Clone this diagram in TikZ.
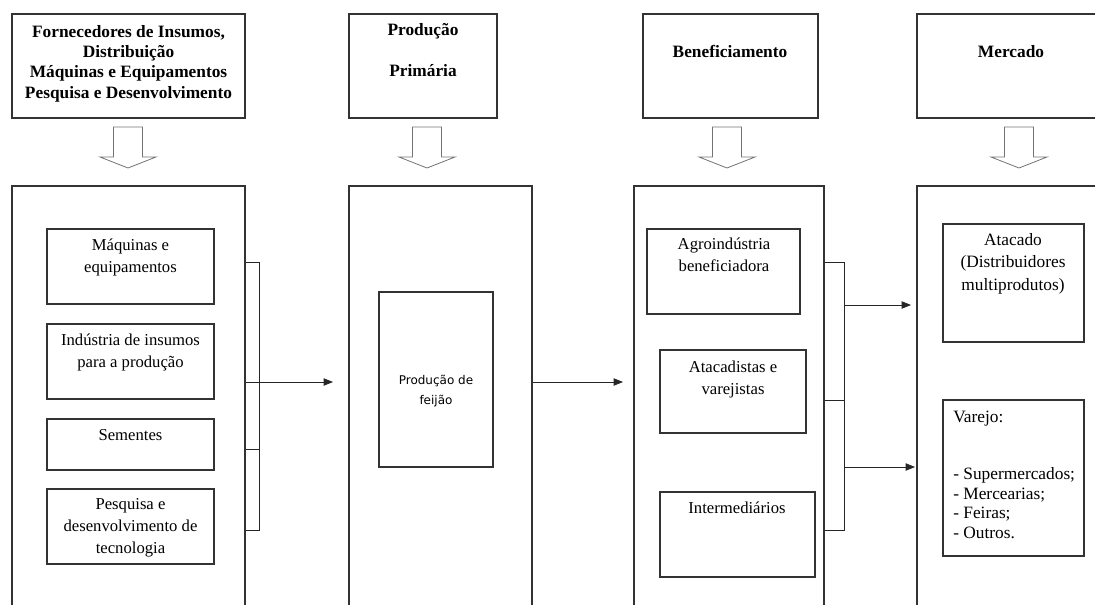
\documentclass[tikz,border=0pt]{standalone}
\usepackage{fontspec}
\setmainfont{Liberation Serif}
\newfontfamily\tahoma{DejaVu Sans}
\usepackage{tikz}
\usetikzlibrary{positioning,arrows.meta,fit}

\begin{document}
\begin{tikzpicture}[
  x=0.75pt, y=-0.75pt,
  box/.style={draw=black!80, line width=0.9pt, inner sep=0pt},
  inbox/.style={draw=black!80, line width=0.8pt, inner sep=0pt},
  headtxt/.style={inner sep=0pt, anchor=base, align=center,
                  font=\fontsize{13}{15.2}\selectfont\bfseries},
  txt/.style={inner sep=0pt, anchor=base, align=center,
              font=\fontsize{12.5}{16.5}\selectfont},
  link/.style={draw=black!85, line width=0.6pt},
  flow/.style={link, -{Triangle[length=7pt,width=5.5pt]}},
  hollow/.style={draw=black!55, line width=0.6pt},
  hollowarrow/.pic={\path[hollow] (-14.5,0) -- (14.5,0) -- (14.5,30) -- (28,30)
                    -- (0,41) -- (-28,30) -- (-14.5,30) -- cycle;},
]
\useasboundingbox (0,0) rectangle (1095,604);
\clip (0,0) rectangle (1095,604);

\node[box, fit={(12,14) (245,118)}] (fornhead) {};
\node[box, fit={(349,14) (497,118)}] (prodhead) {};
\node[box, fit={(643,14) (818,118)}] (benefhead) {};
\node[box, fit={(917,14) (1125,118)}] (mercadohead) {};

\node[headtxt] (fornlbl) at (128.5,98) {Fornecedores de Insumos,\\Distribuição\\
  Máquinas e Equipamentos\\Pesquisa e Desenvolvimento};
\node[headtxt] (prodlbl) at (423,76) {Produção\\[15pt]Primária};
\node[headtxt] (beneflbl) at (730,57) {Beneficiamento};
\node[headtxt] (mercadolbl) at (1011,57) {Mercado};

\pic at (128,127) {hollowarrow};
\pic at (427,127) {hollowarrow};
\pic at (727,127) {hollowarrow};
\pic at (1019,127) {hollowarrow};

\node[box, fit={(12,186) (245,640)}] (fornbig) {};
\node[box, fit={(349,186) (532,640)}] (prodbig) {};
\node[box, fit={(634,186) (824,640)}] (benefbig) {};
\node[box, fit={(917,186) (1125,640)}] (mercadobig) {};

\node[inbox, fit={(47,229) (214,304)}] (maq) {};
\node[inbox, fit={(47,324) (214,399)}] (ind) {};
\node[inbox, fit={(47,419) (214,470)}] (sem) {};
\node[inbox, fit={(47,489) (214,564)}] (pesq) {};
\node[inbox, fit={(379,292) (493,467)}] (feijao) {};
\node[inbox, fit={(647,229) (800,314)}] (agro) {};
\node[inbox, fit={(660,350) (806,433)}] (atac) {};
\node[inbox, fit={(660,492) (815,577)}] (inter) {};
\node[inbox, fit={(943,224) (1084,342)}] (atacado) {};
\node[inbox, fit={(943,400) (1084,556)}] (varejo) {};

\node[txt] (maqlbl) at (130.5,272) {Máquinas e\\equipamentos};
\node[txt] (indlbl) at (130.5,367) {Indústria de insumos\\para a produção};
\node[txt] (semlbl) at (130.5,440) {Sementes};
\node[txt] (pesqlbl) at (130.5,553) {Pesquisa e\\desenvolvimento de\\tecnologia};
\node[txt, font=\tahoma\fontsize{9}{15}\selectfont] (feijaolbl) at (436,404)
  {Produção de\\feijão};
\node[txt] (agrolbl) at (724,271) {Agroindústria\\beneficiadora};
\node[txt] (ataclbl) at (733,394) {Atacadistas e\\varejistas};
\node[txt] (interlbl) at (737,513) {Intermediários};
\node[txt, font=\fontsize{13}{16.8}\selectfont] (atacadolbl) at (1013,290)
  {Atacado\\(Distribuidores\\multiprodutos)};
\node[txt, anchor=base west, align=left, font=\fontsize{13}{14.6}\selectfont]
  (varejolbl) at (953,538)
  {Varejo:\\[28pt]- Supermercados;\\- Mercearias;\\- Feiras;\\- Outros.};

\coordinate (fbtop) at (259,262);
\coordinate (fbmid) at (259,449);
\coordinate (fbbot) at (259,530);
\coordinate (prodin) at (333,382);
\coordinate (benefin) at (623,382);
\coordinate (bbtop) at (844,262);
\coordinate (bbmid) at (844,400);
\coordinate (bbbot) at (844,530);
\coordinate (atacadoin) at (911,305);
\coordinate (varejoin) at (915,467);

\draw[link] (fornbig.east |- fbtop) -- (fbtop) -- (fbbot) -- (fornbig.east |- fbbot);
\draw[link] (fornbig.east |- fbmid) -- (fbmid);
\draw[flow] (fornbig.east |- prodin) -- (prodin);
\draw[flow] (prodbig.east |- benefin) -- (benefin);
\draw[link] (benefbig.east |- bbtop) -- (bbtop) -- (bbbot) -- (benefbig.east |- bbbot);
\draw[link] (benefbig.east |- bbmid) -- (bbmid);
\draw[flow] (bbtop |- atacadoin) -- (atacadoin);
\draw[flow] (bbtop |- varejoin) -- (varejoin);
\end{tikzpicture}
\end{document}
